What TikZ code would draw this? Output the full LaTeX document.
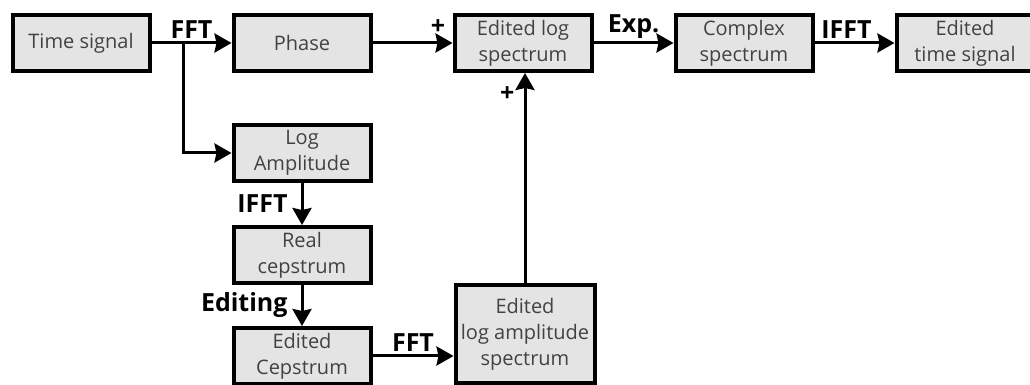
\documentclass[tikz,border=0pt]{standalone}
\usepackage{fontspec}
\setmainfont{Open Sans}
\usetikzlibrary{arrows.meta, positioning}
\definecolor{boxgray}{RGB}{228,228,228}
\definecolor{boxtext}{RGB}{66,66,66}

\begin{document}
\begin{tikzpicture}[
  node distance=40pt,
  box/.style={draw, line width=2pt, fill=boxgray, align=center, text=boxtext,
              font=\fontsize{10}{13}\selectfont,
              minimum width=68.5pt, minimum height=28pt, inner sep=1pt},
  lbl/.style={font=\fontsize{12.5}{14}\selectfont\bfseries, inner sep=1.5pt},
  conn/.style={->, line width=1.5pt},
  >={Stealth[length=8.5pt, width=9.5pt, inset=1pt]}
]
\useasboundingbox (0,0) rectangle (515pt,-192.5pt);
\node[box] (ts) at (40.5pt,-21.5pt) {Time signal};
\node[box, right=of ts] (ph) {Phase};
\node[box, right=of ph] (els) {Edited log\\spectrum};
\node[box, right=of els] (cs) {Complex\\spectrum};
\node[box, right=of cs] (ets) {Edited\\time signal};
\node[box, below=25pt of ph] (la) {Log\\Amplitude};
\node[box, below=21pt of la] (rc) {Real\\cepstrum};
\node[box, below=20.5pt of rc] (ec) {Edited\\Cepstrum};
\node[box, minimum width=69.5pt, minimum height=49pt, anchor=north west] (ela)
  at ([xshift=40.5pt, yshift=21.5pt]ec.north east) {Edited\\log amplitude\\spectrum};
\coordinate (br) at ([xshift=16pt]ts.east);

\draw[conn] (ts) -- node[lbl, above] {FFT} (ph);
\draw[conn] (br) |- (la);
\draw[conn] (ph) -- node[lbl, above=2pt, pos=0.82] {+} (els);
\draw[conn] (els) -- node[lbl, above] {Exp.} (cs);
\draw[conn] (cs) -- node[lbl, above, pos=0.4] {IFFT} (ets);
\draw[conn] (la) -- node[lbl, left=5pt] {IFFT} (rc);
\draw[conn] (rc) -- node[lbl, left=5pt] {Editing} (ec);
\draw[conn] (ec.east) -- node[lbl, above] {FFT} (ec.east -| ela.west);
\draw[conn] (ela.north) -- node[lbl, left=3pt, pos=0.9] {+} (ela.north |- els.south);
\end{tikzpicture}
\end{document}
